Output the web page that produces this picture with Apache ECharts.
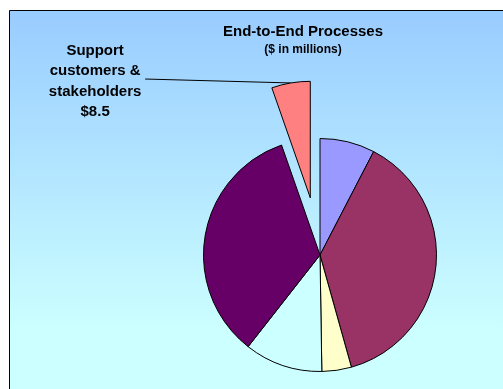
<!DOCTYPE html>
<html>
<head>
<meta charset="utf-8">
<script src="https://cdn.jsdelivr.net/npm/echarts@6/dist/echarts.min.js"></script>
<style>
html,body{margin:0;padding:0;background:#fff;}
#c{width:503px;height:389px;}
</style>
</head>
<body>
<div id="c"></div>
<script>
// Data (clockwise from 12 o'clock)
const categories = ['Process A', 'Process B', 'Process C', 'Process D', 'Process E', 'Support\ncustomers &\nstakeholders'];
const values = [12.1, 60.4, 6.5, 17.2, 54.1, 8.5];
const colors = ['#9999FF', '#993366', '#FFFFCC', '#CCFFFF', '#660066', '#FF8080'];
const labelled = [false, false, false, false, false, true];
const exploded = [false, false, false, false, false, true];
const titleText = 'End-to-End Processes';
const subtitleText = '($ in millions)';

const chart = echarts.init(document.getElementById('c'), null, {renderer: 'canvas'});
const data = categories.map((name, i) => ({
  name: name,
  value: values[i],
  selected: exploded[i],
  itemStyle: {color: colors[i]},
  label: {show: labelled[i]},
  labelLine: {show: labelled[i]}
}));

chart.setOption({
  animation: false,
  backgroundColor: '#ffffff',
  graphic: [{
    type: 'rect',
    z: -10,
    shape: {x: 9.5, y: 10.5, width: 520, height: 400},
    style: {
      fill: new echarts.graphic.LinearGradient(0, 0, 0, 1, [
        {offset: 0, color: '#99CCFF'},
        {offset: 0.8, color: '#CCFFFF'},
        {offset: 1, color: '#CCFFFF'}
      ]),
      stroke: '#000000',
      lineWidth: 1
    }
  }],
  title: {
    text: titleText,
    subtext: subtitleText,
    left: 303,
    top: 24,
    padding: 0,
    textAlign: 'center',
    itemGap: 5,
    textStyle: {fontFamily: 'Liberation Sans', fontWeight: 'bold', fontSize: 15, color: '#000'},
    subtextStyle: {fontFamily: 'Liberation Sans', fontWeight: 'bold', fontSize: 12, color: '#000'}
  },
  series: [{
    type: 'pie',
    center: [320, 255],
    radius: 116.5,
    startAngle: 90,
    clockwise: true,
    selectedMode: 'single',
    selectedOffset: 58,
    avoidLabelOverlap: false,
    emphasis: {disabled: true},
    itemStyle: {borderColor: '#000000', borderWidth: 1},
    label: {
      position: 'outside',
      formatter: p => (p.name + '\n$' + p.value).split('\n').map(l => '{c|' + l + '}').join('\n'),
      padding: [5, 0, 0, 0],
      distanceToLabelLine: 2,
      rich: {
        c: {
          width: 96,
          align: 'center',
          fontFamily: 'Liberation Sans',
          fontWeight: 'bold',
          fontSize: 15,
          lineHeight: 20.5,
          color: '#000'
        }
      }
    },
    labelLine: {
      length: 4,
      length2: 145,
      smooth: false,
      lineStyle: {color: '#000', width: 1}
    },
    labelLayout: function (p) {
      if (p.dataIndex !== 5) return {};
      const pts = p.labelLinePoints;
      return {labelLinePoints: [pts[0], pts[0], pts[2]]};
    },
    data: data
  }]
});
</script>
</body>
</html>
